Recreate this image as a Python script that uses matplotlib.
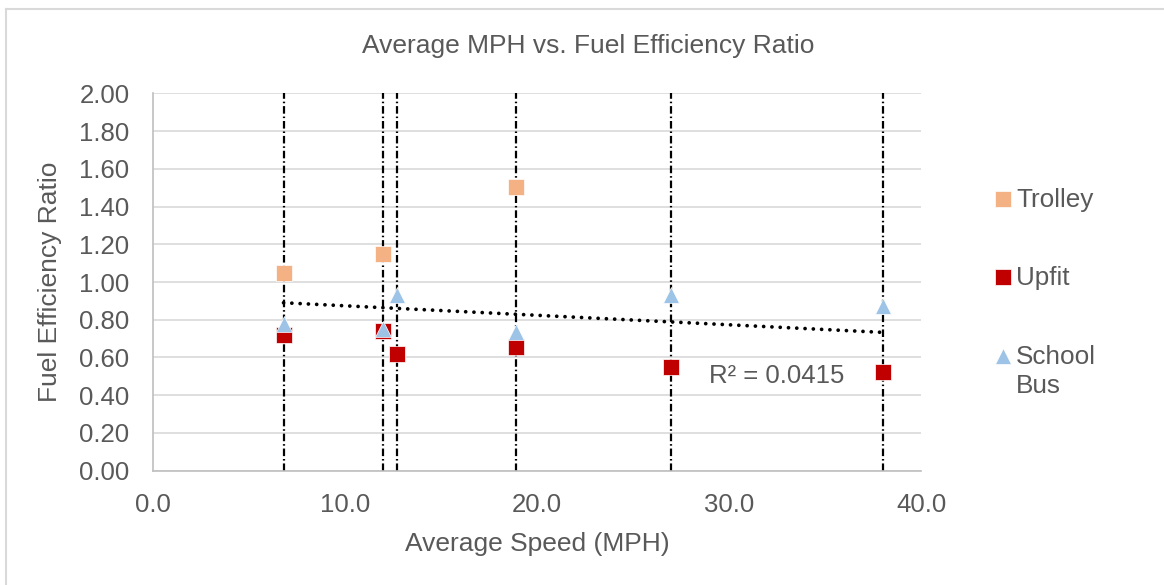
import matplotlib.pyplot as plt
from matplotlib.lines import Line2D

plt.rcParams['font.family'] = ['Liberation Sans', 'DejaVu Sans']

# data
speed = [6.8, 12.0, 12.7, 18.9, 27.0, 38.0]
trolley_speed = [6.8, 12.0, 18.9]
trolley_ratio = [1.05, 1.15, 1.505]
upfit_ratio = [0.72, 0.742, 0.618, 0.657, 0.551, 0.525]
bus_ratio = [0.777, 0.749, 0.931, 0.737, 0.931, 0.873]
trend_x = [6.8, 38.0]
trend_y = [0.89, 0.733]
r2_label = 'R² = 0.0415'

legend_names = ['Trolley', 'Upfit', 'School\nBus']
legend_colors = ['#F4B183', '#C00000', '#9DC3E6']
legend_markers = ['s', 's', '^']

text_col = '#595959'
c_trolley, c_upfit, c_bus = legend_colors

fig = plt.figure(figsize=(11.64, 5.85), dpi=100)
ax = fig.add_axes([153/1164, 1 - 470.7/585, (921 - 153)/1164, (470.7 - 93.3)/585])

# chart area border (only top and left visible)
fig.add_artist(Line2D([6/1164, 6/1164], [0, 1 - 9/585], color='#d9d9d9', lw=1.5))
fig.add_artist(Line2D([6/1164, 1], [1 - 9/585, 1 - 9/585], color='#d9d9d9', lw=1.5))

# vertical dash-dot lines at each speed
for s in speed:
    ax.axvline(s, color='black', lw=1.6, linestyle=(0, (3.4, 1.3, 0.7, 1.3)), zorder=2)

ax.plot(trolley_speed, trolley_ratio, 's', ms=11, color=c_trolley, mec='white', mew=0.5, zorder=3)
ax.plot(speed, upfit_ratio, 's', ms=11, color=c_upfit, mec='white', mew=0.5, zorder=3)
ax.plot(speed, bus_ratio, '^', ms=11.5, color=c_bus, mec='white', mew=0.5, zorder=4)

# trendline
ax.plot(trend_x, trend_y, color='black', lw=2.7, linestyle=(0, (0.01, 2.2)),
        dash_capstyle='round', zorder=5)
ax.text(32.5, 0.50, r2_label, ha='center', va='center', fontsize=18.5, color=text_col)

ax.set_xlim(0, 40)
ax.set_ylim(0, 2)
ax.set_xticks([0, 10, 20, 30, 40])
ax.set_xticklabels([f'{v:.1f}' for v in [0, 10, 20, 30, 40]])
ax.set_yticks([i * 0.2 for i in range(11)])
ax.set_yticklabels([f'{i * 0.2:.2f}' for i in range(11)])
ax.tick_params(axis='both', length=0, labelsize=18.5, labelcolor=text_col)
ax.tick_params(axis='x', pad=16)
ax.tick_params(axis='y', pad=17)
ax.grid(axis='y', color='#d9d9d9', lw=1.2, zorder=0)
ax.set_axisbelow(True)
for sp in ['top', 'right']:
    ax.spines[sp].set_visible(False)
for sp in ['left', 'bottom']:
    ax.spines[sp].set_color('#bfbfbf')
    ax.spines[sp].set_linewidth(1.2)

ax.set_xlabel('Average Speed (MPH)', fontsize=19, color=text_col, labelpad=11)
ax.set_ylabel('Fuel Efficiency Ratio', fontsize=19, color=text_col, labelpad=12)
fig.text(0.505, 1 - 46/585, 'Average MPH vs. Fuel Efficiency Ratio', ha='center', va='center',
         fontsize=19, color=text_col)

# legend on the right, marker lined up with the first text line
legend_y = [199, 277, 356]
for name, col, mk, y in zip(legend_names, legend_colors, legend_markers, legend_y):
    fy = 1 - y/585
    fig.add_artist(Line2D([1003/1164], [fy], marker=mk, ms=11, color=col, mec='white', mew=0.5,
                          linestyle='none'))
    fig.text(1016/1164, fy + 11/585, name, ha='left', va='top', fontsize=18.8,
             color=text_col, linespacing=1.25)

fig.savefig('out.png', dpi=100)
